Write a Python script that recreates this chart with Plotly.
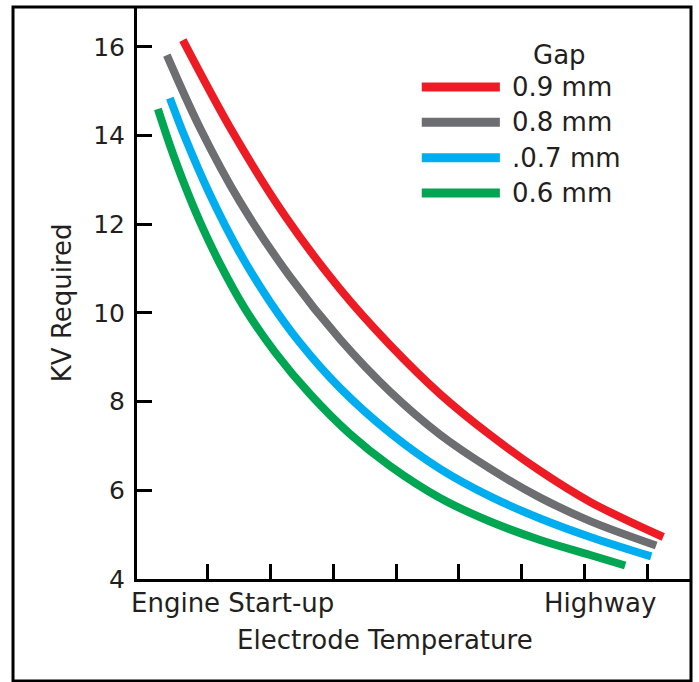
import plotly.graph_objects as go

# gap series
gap_names = ["0.9 mm", "0.8 mm", ".0.7 mm", "0.6 mm"]
gap_colors = ["#ED1C24", "#6D6E71", "#00AEEF", "#00A651"]

red_x = [0.601, 1.399, 2.228, 3.105, 3.903, 4.700, 5.498, 6.295, 7.093, 8.257]
red_y = [16.153, 14.068, 12.192, 10.541, 9.278, 8.174, 7.249, 6.437, 5.738, 4.947]

gray_x = [0.346, 0.872, 1.510, 2.308, 3.105, 3.903, 4.700, 5.498, 6.295, 7.093, 8.145]
gray_y = [15.815, 14.178, 12.510, 10.819, 9.409, 8.225, 7.256, 6.489, 5.835, 5.306, 4.755]

blue_x = [0.394, 0.633, 1.032, 1.510, 1.989, 2.467, 3.105, 3.903, 4.700, 5.498, 6.295, 7.093, 8.066]
blue_y = [14.846, 13.966, 12.670, 11.351, 10.255, 9.328, 8.309, 7.294, 6.483, 5.862, 5.366, 4.949, 4.510]

green_x = [0.203, 0.394, 0.633, 0.872, 1.191, 1.590, 2.069, 2.627, 3.265, 3.903, 4.700,
           5.498, 6.295, 7.093, 7.651]
green_y = [14.598, 13.786, 12.873, 12.061, 11.114, 10.099, 9.118, 8.171, 7.269, 6.548, 5.826,
           5.296, 4.879, 4.541, 4.304]

y_ticks = [4, 6, 8, 10, 12, 14, 16]
x_ticks = [1, 2, 3, 4, 5, 6, 7, 8]

FONT = "DejaVu Sans"
INK = "#231f20"
FS = 26

fig = go.Figure()
series = [(red_x, red_y), (gray_x, gray_y), (blue_x, blue_y), (green_x, green_y)]
for (xs, ys), name, col in zip(series, gap_names, gap_colors):
    fig.add_trace(go.Scatter(x=xs, y=ys, name=name, mode="lines",
                             line=dict(color=col, width=8, shape="spline", smoothing=1.0),
                             showlegend=False, hoverinfo="skip"))

# legend drawn by hand so the samples are long like the original
ann = []
shapes = []
for i, (name, col) in enumerate(zip(gap_names, gap_colors)):
    yy = 0.860 - i * 0.0617
    shapes.append(dict(type="line", xref="paper", yref="paper", x0=0.514, x1=0.655,
                       y0=yy, y1=yy, line=dict(color=col, width=9)))
    ann.append(dict(text=name, xref="paper", yref="paper", x=0.674, y=yy,
                    xanchor="left", yanchor="middle", showarrow=False,
                    font=dict(size=FS, color=INK)))
ann.append(dict(text="Gap", xref="paper", yref="paper", x=0.763, y=0.916,
                xanchor="center", yanchor="middle", showarrow=False,
                font=dict(size=FS, color=INK)))

# x labels
ann.append(dict(text="Engine Start-up", xref="x", yref="paper", x=1.40, y=-0.042,
                xanchor="center", yanchor="middle", showarrow=False, font=dict(size=FS, color=INK)))
ann.append(dict(text="Highway", xref="x", yref="paper", x=7.25, y=-0.042,
                xanchor="center", yanchor="middle", showarrow=False, font=dict(size=FS, color=INK)))
ann.append(dict(text="Electrode Temperature", xref="x", yref="paper", x=3.82, y=-0.107,
                xanchor="center", yanchor="middle", showarrow=False, font=dict(size=FS, color=INK)))
ann.append(dict(text="KV Required", xref="paper", yref="paper", x=-0.135, y=0.4825,
                xanchor="center", yanchor="middle", textangle=-90, showarrow=False,
                font=dict(size=FS, color=INK)))

# outer frame
shapes.append(dict(type="rect", xref="paper", yref="paper", x0=-0.2238, x1=1.0,
                   y0=-0.1783, y1=1.0, line=dict(color="black", width=3)))

fig.update_layout(
    width=699, height=682,
    margin=dict(l=137, r=8, t=7, b=103),
    plot_bgcolor="white", paper_bgcolor="white",
    font=dict(family=FONT, size=FS, color=INK),
    annotations=ann, shapes=shapes,
    xaxis=dict(range=[-0.13, 8.70], tickvals=x_ticks, showticklabels=False,
               ticks="inside", ticklen=15, tickwidth=2.5, tickcolor="black",
               showline=True, linecolor="black", linewidth=3,
               showgrid=False, zeroline=False, fixedrange=True),
    yaxis=dict(range=[4, 16.9], tickvals=y_ticks,
               ticks="inside", ticklen=15, tickwidth=2.5, tickcolor="black",
               ticklabelstandoff=4,
               showline=True, linecolor="black", linewidth=3,
               showgrid=False, zeroline=False, fixedrange=True,
               tickfont=dict(size=25, color=INK)),
)

fig.write_html("out.html", config={"displayModeBar": False},
               post_script="document.body.style.margin='0';")
